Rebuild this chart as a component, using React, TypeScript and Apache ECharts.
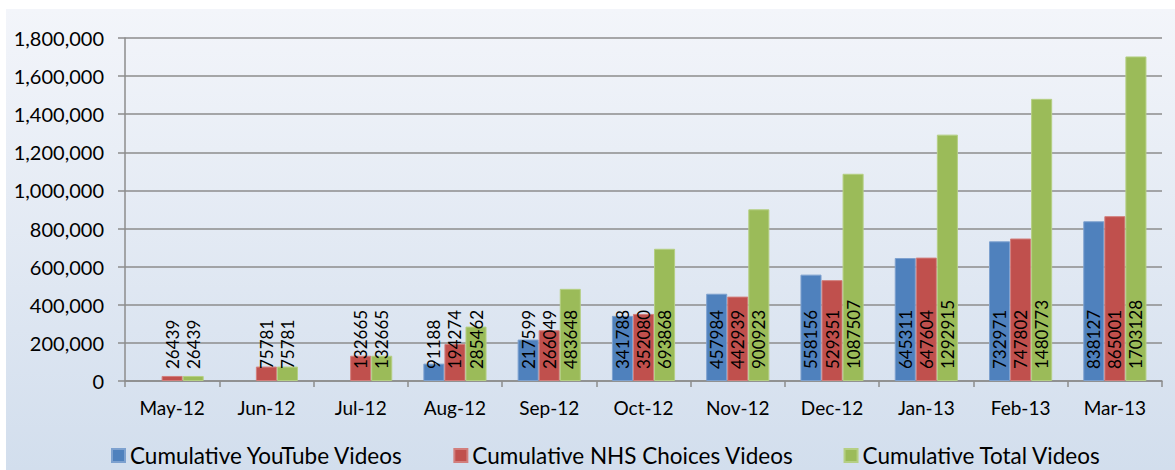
import React, { useEffect, useRef } from "react";
import * as echarts from "echarts";

const categories = ["May-12", "Jun-12", "Jul-12", "Aug-12", "Sep-12", "Oct-12", "Nov-12", "Dec-12", "Jan-13", "Feb-13", "Mar-13"];
const youtube = [null, null, null, 91188, 217599, 341788, 457984, 558156, 645311, 732971, 838127];
const nhs = [26439, 75781, 132665, 194274, 266049, 352080, 442939, 529351, 647604, 747802, 865001];
const total = [26439, 75781, 132665, 285462, 483648, 693868, 900923, 1087507, 1292915, 1480773, 1703128];
const seriesNames = ["Cumulative YouTube Videos", "Cumulative NHS Choices Videos", "Cumulative Total Videos"];
const colors = ["#4f81bd", "#c0504d", "#9bbb59"];
const borders = ["#7da1cf", "#d27e7c", "#b5cf83"];

const FONT = "Lato, 'Open Sans', sans-serif";

export default function App() {
  const ref = useRef<HTMLDivElement>(null);
  useEffect(() => {
    if (!ref.current) return;
    const chart = echarts.init(ref.current, null, { renderer: "svg" });
    const label = {
      show: true,
      position: "insideBottom",
      rotate: 90,
      align: "left",
      verticalAlign: "middle",
      distance: 12,
      color: "#000",
      fontFamily: FONT,
      fontSize: 17,
      formatter: (p: any) => (p.value == null ? "" : String(p.value)),
    };
    const datas = [youtube, nhs, total];
    chart.setOption({
      animation: false,
      textStyle: { fontFamily: FONT },
      graphic: [
        {
          type: "rect",
          z: -10,
          silent: true,
          shape: { x: 6, y: 9, width: 1169, height: 461 },
          style: {
            fill: new echarts.graphic.LinearGradient(0, 0, 0, 1, [
              { offset: 0, color: "#f3f5fa" },
              { offset: 1, color: "#d2deed" },
            ]),
          },
        },
      ],
      grid: { left: 125, right: 13, top: 38, bottom: 89 },
      legend: {
        left: 106,
        top: 439,
        itemWidth: 13,
        itemHeight: 13,
        itemGap: 50,
        icon: "rect",
        textStyle: { fontFamily: FONT, fontSize: 22.5, color: "#000", padding: [0, 0, 0, 0] },
        data: seriesNames,
      },
      xAxis: {
        type: "category",
        data: categories,
        boundaryGap: true,
        axisLine: { lineStyle: { color: "#8c8c8c", width: 1.5 } },
        axisTick: { show: true, length: 6, alignWithLabel: false, lineStyle: { color: "#8c8c8c", width: 1.5 } },
        axisLabel: { color: "#000", fontFamily: FONT, fontSize: 19, margin: 17 },
      },
      yAxis: {
        type: "value",
        min: 0,
        max: 1800000,
        interval: 200000,
        axisLine: { show: true, lineStyle: { color: "#8c8c8c", width: 1.5 } },
        axisTick: { show: true, length: 7, lineStyle: { color: "#8c8c8c", width: 1.5 } },
        splitLine: { show: true, lineStyle: { color: "#8c8c8c", width: 1.5 } },
        axisLabel: {
          color: "#000",
          fontFamily: FONT,
          fontSize: 20,
          margin: 21,
          formatter: (v: number) => v.toLocaleString("en-US"),
        },
      },
      series: datas.map((d, i) => ({
        name: seriesNames[i],
        type: "bar",
        data: d,
        barGap: "0%",
        barCategoryGap: "33%",
        itemStyle: { color: colors[i], borderColor: borders[i], borderWidth: 1 },
        label,
      })),
    });
    return () => chart.dispose();
  }, []);
  return <div ref={ref} style={{ position: "absolute", left: 0, top: 0, width: 1175, height: 470 }} />;
}
